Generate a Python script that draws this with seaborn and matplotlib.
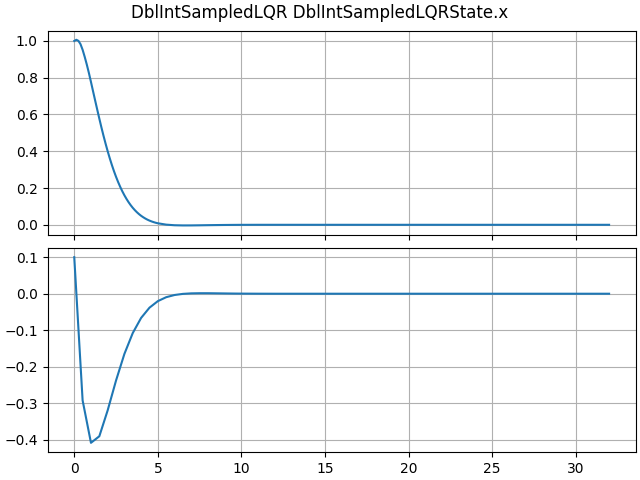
import matplotlib
matplotlib.use("Agg")
import matplotlib.pyplot as plt
import pandas as pd
import seaborn as sns

# position state
pos_time = [
    0.0, 0.125, 0.25, 0.375, 0.5, 0.625, 0.75, 0.875,
    1.0, 1.125, 1.25, 1.375, 1.5, 1.625, 1.75, 1.875,
    2.0, 2.125, 2.25, 2.375, 2.5, 2.625, 2.75, 2.875,
    3.0, 3.125, 3.25, 3.375, 3.5, 3.625, 3.75, 3.875,
    4.0, 4.125, 4.25, 4.375, 4.5, 4.625, 4.75, 4.875,
    5.0, 5.5, 6.0, 6.5, 7.0, 7.5, 8.0, 8.5, 9.0, 9.5,
    10.0, 11.0, 12.0, 16.0, 20.0, 24.0, 28.0, 32.0,
]
pos_value = [
    1.0, 1.0064, 1.0005, 0.9824, 0.9520, 0.9137, 0.8718, 0.8262,
    0.7770, 0.7263, 0.6761, 0.6265, 0.5775, 0.5299, 0.4844, 0.4412,
    0.4002, 0.3616, 0.3256, 0.2920, 0.2611, 0.2326, 0.2063, 0.1823,
    0.1606, 0.1409, 0.1230, 0.1069, 0.0925, 0.0797, 0.0682, 0.0580,
    0.0490, 0.0412, 0.0342, 0.0281, 0.0229, 0.0184, 0.0145, 0.0111,
    0.0083, 0.0009, -0.0024, -0.0034, -0.0033, -0.0027, -0.0020, -0.0014, -0.0009, -0.0005,
    -0.0002, 0.0, 0.0, 0.0, 0.0, 0.0, 0.0, 0.0,
]

# velocity state
vel_time = [
    0.0, 0.5, 1.0, 1.5, 2.0, 2.5, 3.0, 3.5, 4.0, 4.5,
    5.0, 5.5, 6.0, 6.5, 7.0, 7.5, 8.0, 8.5, 9.0, 9.5,
    10.0, 11.0, 12.0, 16.0, 20.0, 24.0, 28.0, 32.0,
]
vel_value = [
    0.1, -0.2919, -0.4080, -0.3900, -0.3190, -0.2374, -0.1647, -0.1076, -0.0662, -0.0382,
    -0.0203, -0.0095, -0.0035, -0.0004, 0.0010, 0.0014, 0.0014, 0.0011, 0.0008, 0.0005,
    0.0003, 0.0001, 0.0, 0.0, 0.0, 0.0, 0.0, 0.0,
]

pos_df = pd.DataFrame({"t": pos_time, "x": pos_value})
vel_df = pd.DataFrame({"t": vel_time, "v": vel_value})

fig, axes = plt.subplots(2, 1, sharex=True, figsize=(6.4, 4.8), dpi=100,
                         layout="constrained")
sns.lineplot(data=pos_df, x="t", y="x", ax=axes[0], color="tab:blue")
sns.lineplot(data=vel_df, x="t", y="v", ax=axes[1], color="tab:blue")

for ax in axes:
    ax.grid(True)
    ax.set_xlabel("")
    ax.set_ylabel("")

fig.suptitle("DblIntSampledLQR DblIntSampledLQRState.x")
fig.savefig("out.png")
